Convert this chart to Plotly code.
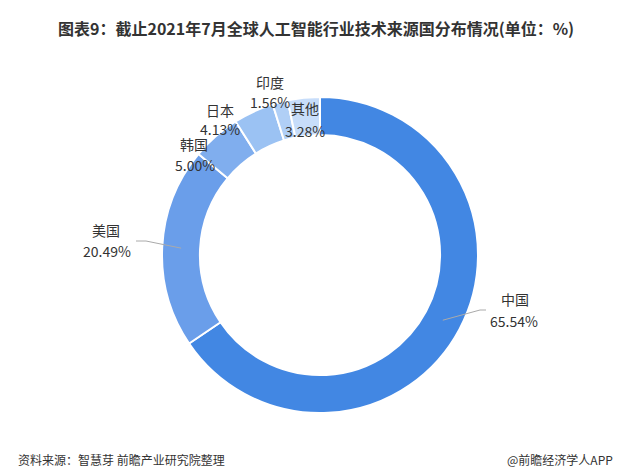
import numpy as np
import plotly.graph_objects as go

categories = ["中国", "美国", "韩国", "日本", "印度", "其他"]
values = [65.54, 20.49, 5.00, 4.13, 1.56, 3.28]
colors = ["#4287E3", "#6A9EEA", "#80AEEE", "#9BC2F3", "#B0CFF6", "#C7DDFA"]

title_text = "图表9：截止2021年7月全球人工智能行业技术来源国分布情况(单位：%)"
source_text = "资料来源：智慧芽 前瞻产业研究院整理"
brand_text = "@前瞻经济学人APP"

# label placement (pixels from top-left) — layout only
name_pos = [(507, 291), (98, 222), (186, 136), (212, 102), (262, 74), (297, 100)]
value_pos = [(506, 313), (99, 243), (187, 157), (212, 121), (262, 94), (297, 123)]
# leader line elbows for the two large slices (pixels)
leader_elbows = {0: [(472, 302), (478, 302)], 1: [(138, 233), (128, 233)]}

W, H = 625, 472
font_family = "Noto Sans CJK SC"
hole = 0.76
dom_x = [154 / W, 470 / W]
dom_y = [(H - 405) / H, (H - 89) / H]

fig = go.Figure(go.Pie(
    labels=categories,
    values=values,
    hole=hole,
    sort=False,
    direction="clockwise",
    rotation=0,
    marker=dict(colors=colors, line=dict(color="white", width=2)),
    textinfo="none",
    hoverinfo="label+value",
    showlegend=False,
    domain=dict(x=dom_x, y=dom_y),
))

def px_to_paper(x, y):
    return x / W, 1 - y / H

annotations = [
    dict(text="<b>" + title_text + "</b>", x=48 / W, y=1 - 20 / H, xref="paper", yref="paper",
         xanchor="left", yanchor="middle", showarrow=False,
         font=dict(family=font_family, size=16, color="#333333")),
    dict(text=source_text, x=8 / W, y=1 - 451 / H, xref="paper", yref="paper",
         xanchor="left", yanchor="middle", showarrow=False,
         font=dict(family=font_family, size=12, color="#333333")),
    dict(text=brand_text, x=497 / W, y=1 - 451 / H, xref="paper", yref="paper",
         xanchor="left", yanchor="middle", showarrow=False,
         font=dict(family=font_family, size=12, color="#333333")),
]

for cat, val, (nx, ny), (vx, vy) in zip(categories, values, name_pos, value_pos):
    px_, py_ = px_to_paper(nx, ny)
    annotations.append(dict(text=cat, x=px_, y=py_, xref="paper", yref="paper",
                            xanchor="center", yanchor="middle", showarrow=False,
                            font=dict(family=font_family, size=14, color="#333333")))
    px_, py_ = px_to_paper(vx, vy)
    annotations.append(dict(text=f"{val:.2f}%", x=px_, y=py_, xref="paper", yref="paper",
                            xanchor="center", yanchor="middle", showarrow=False,
                            font=dict(family=font_family, size=14, color="#333333")))

# leader lines: start at mid-ring of each slice's mid-angle
cx = (dom_x[0] + dom_x[1]) / 2 * W
cy = H - (dom_y[0] + dom_y[1]) / 2 * H
R = (dom_x[1] - dom_x[0]) * W / 2
r_mid = R * (1 + hole) / 2
total = sum(values)
cum = np.cumsum([0] + values)
shapes = []
for i, pts in leader_elbows.items():
    theta = 2 * np.pi * (cum[i] + values[i] / 2) / total
    sx = cx + r_mid * np.sin(theta)
    sy = cy - r_mid * np.cos(theta)
    path_pts = [(sx, sy)] + pts
    d = "M " + " L ".join(f"{x / W},{1 - y / H}" for x, y in path_pts)
    shapes.append(dict(type="path", path=d, xref="paper", yref="paper",
                       line=dict(color="#AAAAAA", width=1)))

fig.update_layout(
    width=W, height=H,
    margin=dict(l=0, r=0, t=0, b=0),
    paper_bgcolor="white",
    plot_bgcolor="white",
    font=dict(family=font_family, color="#333333"),
    annotations=annotations,
    shapes=shapes,
)

fig.write_html("out.html")
